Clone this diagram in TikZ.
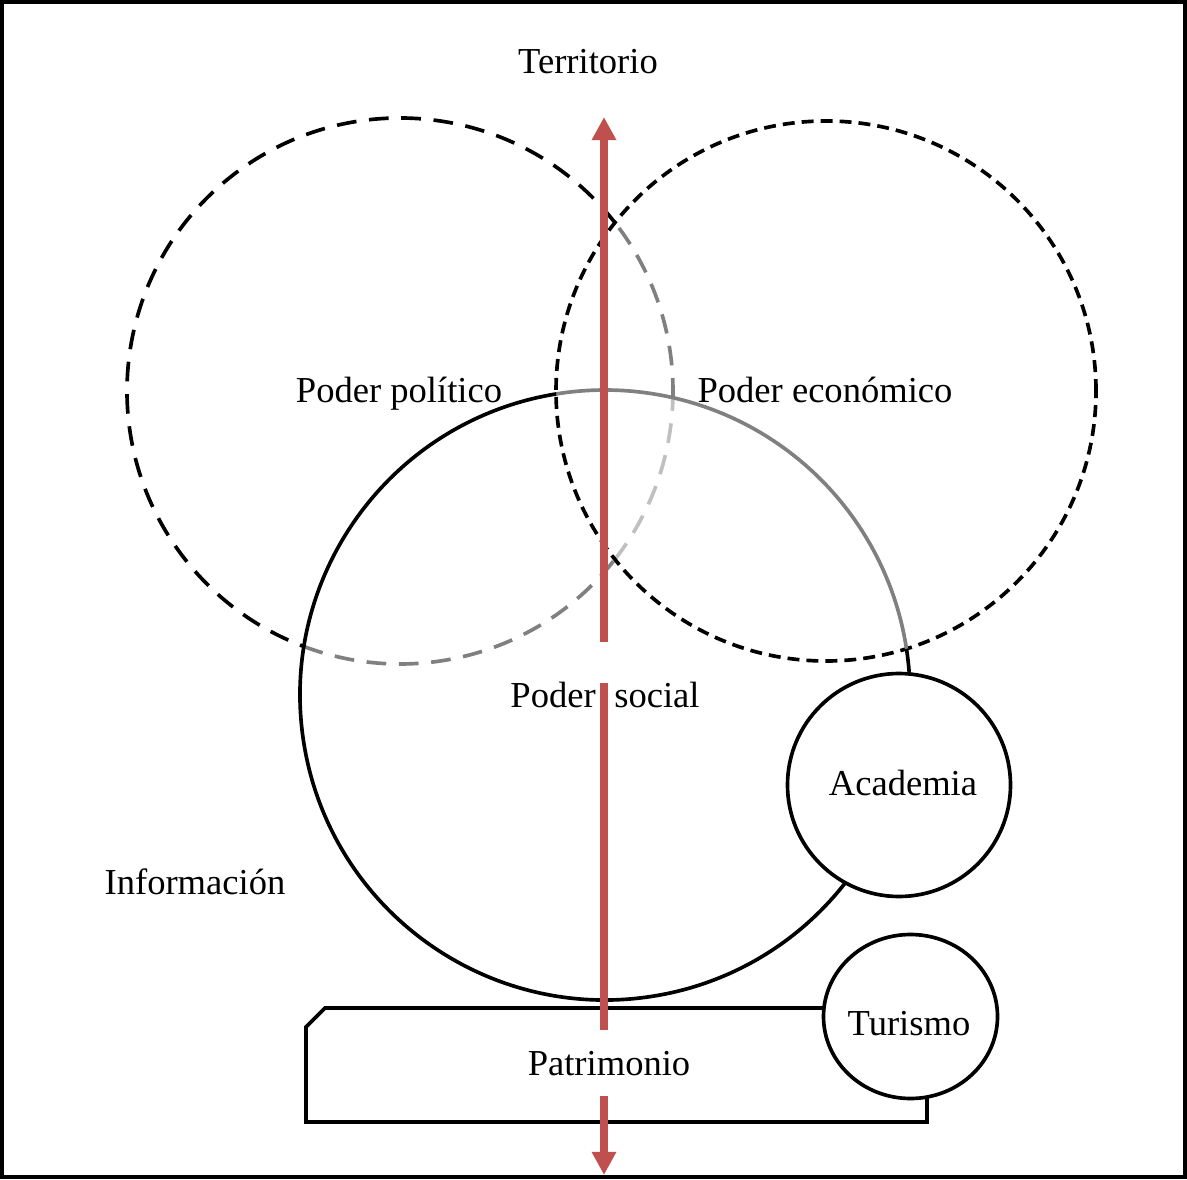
\documentclass[tikz,border=0pt]{standalone}
\usepackage{fontspec}
\setmainfont{Liberation Serif}
\usetikzlibrary{calc,arrows.meta}
\definecolor{axisred}{HTML}{C0504D}
\definecolor{midgray}{HTML}{808080}
\definecolor{palegray}{HTML}{C0C0C0}
\tikzset{
  txt/.style={font=\fontsize{26}{30}\selectfont, inner sep=0pt},
  ring/.style={line width=2.6pt},
  polring/.style={line width=2.6pt, dash pattern=on 14pt off 9pt},
  ecoring/.style={line width=2.6pt, dash pattern=on 8.5pt off 5pt},
  axis/.style={axisred, line width=5.7pt},
  axishead/.style={-{Triangle[length=0.58cm,width=0.58cm]}},
}

\begin{document}
\begin{tikzpicture}[x=0.025cm, y=0.025cm]
		\useasboundingbox (0,0) rectangle (1187,1179);
		\draw[line width=3pt] (2,2) rectangle (1185,1177);
		% centres
		\coordinate (pol) at (400,788);
		\coordinate (eco) at (826,788);
		\coordinate (soc) at (605,484);
		\coordinate (aca) at (899,394);
		\coordinate (tur) at (910.5,162.5);
		% poder politico, shaded where it lies inside the others
		\draw[polring] ($(pol)+(38.1:273)$) arc[start angle=38.1, end angle=249.4, radius=273];
		\draw[polring, midgray] ($(pol)+(249.4:273)$) arc[start angle=249.4, end angle=321.9, radius=273];
		\draw[polring, palegray] ($(pol)+(321.9:273)$) arc[start angle=321.9, end angle=358.6, radius=273];
		\draw[polring, midgray] ($(pol)+(358.6:273)$) arc[start angle=358.6, end angle=398.1, radius=273];
		% poder economico
		\draw[ecoring] (eco) circle[radius=270];
		% poder social
		\draw[ring, midgray] ($(soc)+(8.7:305)$) arc[start angle=8.7, end angle=99.2, radius=305];
		\draw[ring] ($(soc)+(99.2:305)$) arc[start angle=99.2, end angle=368.7, radius=305];
		\draw[ring, fill=white] (aca) circle[radius=111.5];
		% patrimonio
		\draw[ring] (306,57) -- (306,152) -- (325,171) -- (927,171) -- (927,57) -- cycle;
		\draw[ring, fill=white] (tur) ellipse[x radius=87, y radius=82];
		% territorio axis
		\coordinate (t1) at (604,537);
		\coordinate (t2) at (604,1062);
		\coordinate (m1) at (604,496);
		\coordinate (m2) at (604,149);
		\coordinate (b1) at (604,83);
		\coordinate (b2) at (604,4);
		\draw[axis, axishead] (t1) -- (t2);
		\draw[axis] (m1) -- (m2);
		\draw[axis, axishead] (b1) -- (b2);
		% labels
		\node[txt, anchor=base] (terr) at (588,1105) {Territorio};
		\node[txt, anchor=base] (ppol) at (399,776) {Poder político};
		\node[txt, anchor=base] (peco) at (825,776) {Poder económico};
		\node[txt, anchor=base east] (psoc1) at (596,472) {Poder};
		\node[txt, anchor=base west] (psoc2) at (614,472) {social};
		\node[txt, anchor=base] (acad) at (903,384) {Academia};
		\node[txt, anchor=base] (info) at (195,285) {Información};
		\node[txt, anchor=base] (turi) at (909,144) {Turismo};
		\node[txt, anchor=base] (patr) at (609,104) {Patrimonio};
\end{tikzpicture}
\end{document}
